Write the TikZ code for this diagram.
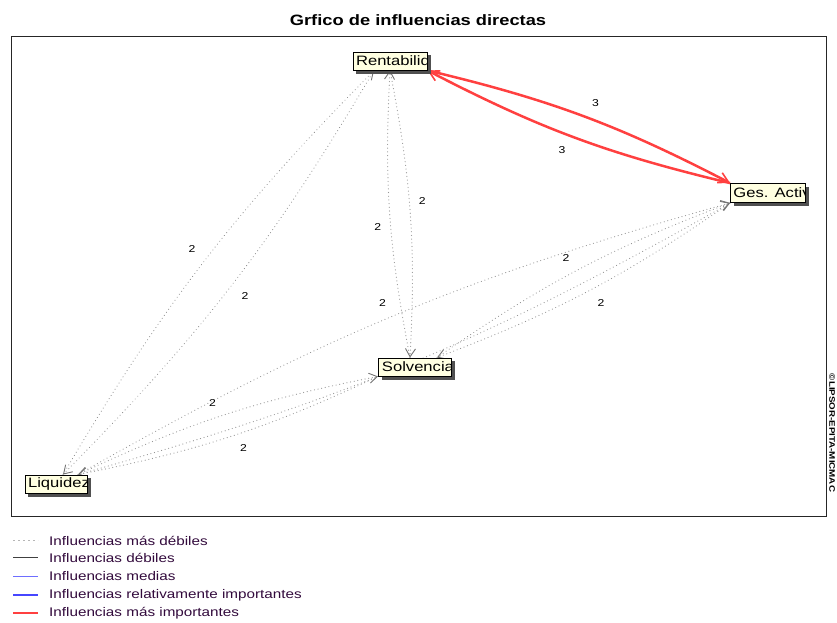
\documentclass[tikz,border=0pt]{standalone}
\usepackage{fontspec}
\setmainfont[FakeStretch=1.22]{Liberation Sans}
\usetikzlibrary{arrows.meta}

\definecolor{tipyellow}{RGB}{255,255,225}
\definecolor{edgegray}{RGB}{150,150,150}
\definecolor{tipgray}{RGB}{115,115,115}
\definecolor{strongred}{RGB}{255,64,64}
\definecolor{legendtext}{RGB}{50,10,60}
\definecolor{mediumblue}{RGB}{110,110,255}
\definecolor{legendblue}{RGB}{70,70,255}
\definecolor{shadegray}{RGB}{80,80,80}

\pgfdeclarelayer{edges}
\pgfdeclarelayer{shadows}
\pgfsetlayers{edges,shadows,main}

\begin{document}
\begin{tikzpicture}[x=1pt,y=1pt,
  varbox/.style={draw=black, line width=0.9pt, fill=tipyellow, inner sep=0pt,
    minimum height=18pt,
    path picture={\node[anchor=west, inner sep=0pt, font=\fontsize{13.6}{16}\selectfont]
      at ([xshift=2.5pt]path picture bounding box.west) {#1};}},
  faint/.style={draw=edgegray, line width=1.1pt, line cap=round,
    dash pattern=on 0.1pt off 3.6pt, bend left=7,
    -{Straight Barb[length=8pt,width=10pt,line width=0.9pt,color=tipgray]}},
  strong/.style={draw=strongred, line width=2.5pt, bend left=7,
    -{Straight Barb[length=10pt,width=11pt,line width=1.6pt]}},
  wt/.style={font=\fontsize{10}{12}\selectfont, inner sep=8pt, auto},
  legtext/.style={anchor=west, inner sep=0pt, text=legendtext,
    font=\fontsize{12.5}{14}\selectfont},
]
\useasboundingbox (0,0) rectangle (837,623);

% title and frame
\node[font=\bfseries\fontsize{15}{18}\selectfont] (title) at (418,603)
  {Grfico de influencias directas};
\draw[line width=1pt, black!85] (11,106) rectangle (826,586);
\node[rotate=-90, inner sep=0pt, font=\bfseries\fontsize{8}{9}\selectfont] (copy) at (832,190)
  {©LIPSOR-EPITA-MICMAC};

% variables
\node[varbox=Rentabilid, minimum width=74pt] (rent) at (390,562) {};
\node[varbox=Ges. Activ, minimum width=75pt, minimum height=19pt] (ges) at (768,430) {};
\node[varbox=Solvencia, minimum width=73pt] (solv) at (415,256) {};
\node[varbox=Liquidez, minimum width=62pt] (liq) at (56,139) {};

\begin{pgfonlayer}{shadows}
  \foreach \v in {rent,ges,solv,liq}
    \fill[shadegray] ([shift={(3.5pt,-3.5pt)}]\v.south west)
      rectangle ([shift={(3.5pt,-3.5pt)}]\v.north east);
\end{pgfonlayer}

% influences
\begin{pgfonlayer}{edges}
  \draw[strong] (rent.south east) to node[wt]{3} (ges.north west);
  \draw[strong] (ges.north west) to node[wt]{3} (rent.south east);

  \draw[faint] (rent.south) to node[wt]{2} ([xshift=-5pt]solv.north);
  \draw[faint] ([xshift=-5pt]solv.north) to node[wt]{2} (rent.south);

  \draw[faint] ([xshift=-16pt]rent.south) to node[wt]{2} ([xshift=7pt]liq.north);
  \draw[faint] ([xshift=7pt]liq.north) to node[wt]{2} ([xshift=-16pt]rent.south);

  \draw[faint] (ges.south west) to node[wt]{2} ([xshift=22pt]solv.north);
  \draw[faint] ([xshift=22pt]solv.north) to node[wt]{2} (ges.south west);

  \draw[faint] (ges.south west) to node[wt]{2} ([xshift=22pt]liq.north);
  \draw[faint] ([xshift=22pt]liq.north) to node[wt]{2} (ges.south west);

  \draw[faint] (solv.south west) to node[wt]{2} ([xshift=22pt]liq.north);
  \draw[faint] ([xshift=22pt]liq.north) to node[wt]{2} (solv.south west);
\end{pgfonlayer}

% legend
\draw[edgegray!70, line width=1pt, dash pattern=on 2pt off 3pt] (13,82) -- (38,82);
\node[legtext] (leg1) at (49,82) {Influencias más débiles};
\draw[black!75, line width=1pt] (13,65) -- (38,65);
\node[legtext] (leg2) at (49,65) {Influencias débiles};
\draw[mediumblue, line width=0.9pt] (13,47) -- (38,47);
\node[legtext] (leg3) at (49,47) {Influencias medias};
\draw[legendblue, line width=2.6pt] (13,28) -- (38,28);
\node[legtext] (leg4) at (49,28) {Influencias relativamente importantes};
\draw[strongred, line width=2.5pt] (13,10) -- (38,10);
\node[legtext] (leg5) at (49,10) {Influencias más importantes};
\end{tikzpicture}
\end{document}
